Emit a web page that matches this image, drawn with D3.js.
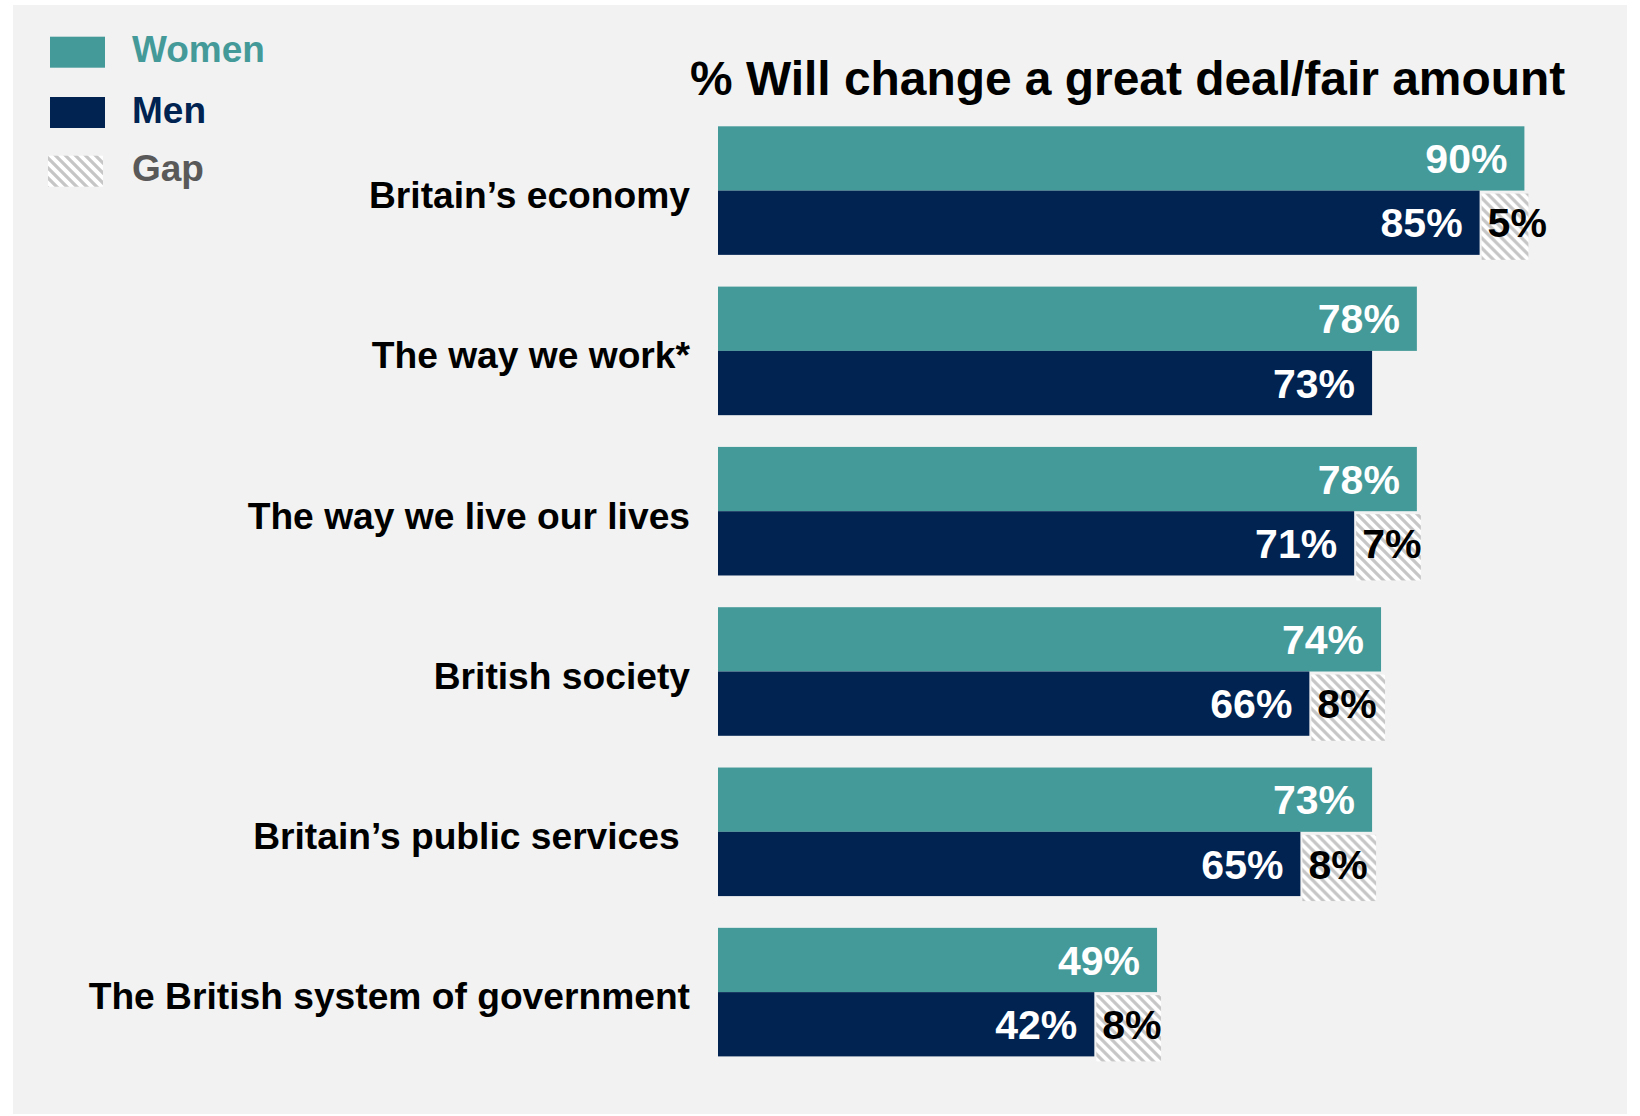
<!DOCTYPE html>
<html>
<head>
<meta charset="utf-8">
<script src="https://cdn.jsdelivr.net/npm/d3@7"></script>
<style>
  html, body { margin: 0; padding: 0; background: #ffffff; }
  svg { display: block; font-family: "Liberation Sans", Arial, Helvetica, sans-serif; }
</style>
</head>
<body>
<svg id="chart" width="1640" height="1116"></svg>
<script>
// ---- Data ----
const categories = [
  "Britain\u2019s economy",
  "The way we work*",
  "The way we live our lives",
  "British society",
  "Britain\u2019s public services\u00a0",
  "The British system of government"
];
const women = [90, 78, 78, 74, 73, 49];
const men   = [85, 73, 71, 66, 65, 42];
const gap   = [5, null, 7, 8, 8, 8];
const seriesNames = ["Women", "Men"];
const legendLabels = ["Women", "Men", "Gap"];
const titleText = "% Will change a great deal/fair amount";

// ---- Layout ----
const svg = d3.select("#chart");
const colors = { Women: "#449a99", Men: "#002352" };
const legendTextColors = ["#449a99", "#002352", "#595959"];

// panel background
svg.append("rect").attr("x", 13).attr("y", 5).attr("width", 1614).attr("height", 1109).attr("fill", "#f2f2f2");

// hatch pattern
const defs = svg.append("defs");
const pat = defs.append("pattern").attr("id", "hatch").attr("patternUnits", "userSpaceOnUse")
  .attr("width", 10).attr("height", 10);
pat.append("rect").attr("width", 10).attr("height", 10).attr("fill", "#ffffff");
pat.append("path").attr("d", "M-3,-3 L13,13 M-3,7 L3,13 M7,-3 L13,3")
  .attr("stroke", "#c6c6c6").attr("stroke-width", 3.2);

const x = d3.scaleLinear().domain([0, 100]).range([718, 1614]);
const y = d3.scaleBand().domain(categories).range([126.3, 1056.4]).paddingInner(0.198).paddingOuter(0);
const ySub = d3.scaleBand().domain(seriesNames).range([0, y.bandwidth()]).padding(0);

const rows = categories.map((c, i) => ({ cat: c, Women: women[i], Men: men[i], gap: gap[i] }));

const g = svg.append("g");
const grp = g.selectAll("g.row").data(rows).join("g").attr("class", "row")
  .attr("transform", d => `translate(0,${y(d.cat)})`);

// gap rects
grp.filter(d => d.gap != null).append("rect")
  .attr("x", d => x(d.Men) + 2)
  .attr("y", ySub("Men") + 3)
  .attr("width", d => x(d.Women) - x(d.Men) + 2)
  .attr("height", ySub.bandwidth() + 2)
  .attr("fill", "url(#hatch)");

// bars
seriesNames.forEach(s => {
  grp.append("rect")
    .attr("x", x(0))
    .attr("y", ySub(s))
    .attr("width", d => x(d[s]) - x(0))
    .attr("height", ySub.bandwidth())
    .attr("fill", colors[s]);
  grp.append("text")
    .attr("x", d => x(d[s]) - 17)
    .attr("y", ySub(s) + ySub.bandwidth() / 2 + 0.358 * 41)
    .attr("text-anchor", "end")
    .attr("font-size", 41).attr("font-weight", "bold").attr("fill", "#ffffff")
    .text(d => d[s] + "%");
});

// gap labels
grp.filter(d => d.gap != null).append("text")
  .attr("x", d => x(d.Men) + 8)
  .attr("y", ySub("Men") + ySub.bandwidth() / 2 + 0.358 * 41)
  .attr("font-size", 41).attr("font-weight", "bold").attr("fill", "#000000")
  .text(d => d.gap + "%");

// category labels
grp.append("text")
  .attr("x", 690)
  .attr("y", ySub("Men") + 4 + 0.358 * 37.2)
  .attr("text-anchor", "end")
  .attr("font-size", 37.2).attr("font-weight", "bold").attr("fill", "#000000")
  .style("white-space", "pre")
  .text(d => d.cat);

// title
svg.append("text").attr("x", 690).attr("y", 95)
  .attr("font-size", 47.9).attr("font-weight", "bold").attr("fill", "#000000")
  .text(titleText);

// legend
const legY = [36.7, 97, 155.7];
const leg = svg.append("g");
legendLabels.forEach((l, i) => {
  leg.append("rect").attr("x", i === 2 ? 48 : 50).attr("y", legY[i]).attr("width", 55).attr("height", 31)
    .attr("fill", i === 0 ? colors.Women : i === 1 ? colors.Men : "url(#hatch)");
  leg.append("text").attr("x", 132).attr("y", legY[i] + 12.5 + 0.358 * 37)
    .attr("font-size", 37).attr("font-weight", "bold").attr("fill", legendTextColors[i])
    .text(l);
});
</script>
</body>
</html>
